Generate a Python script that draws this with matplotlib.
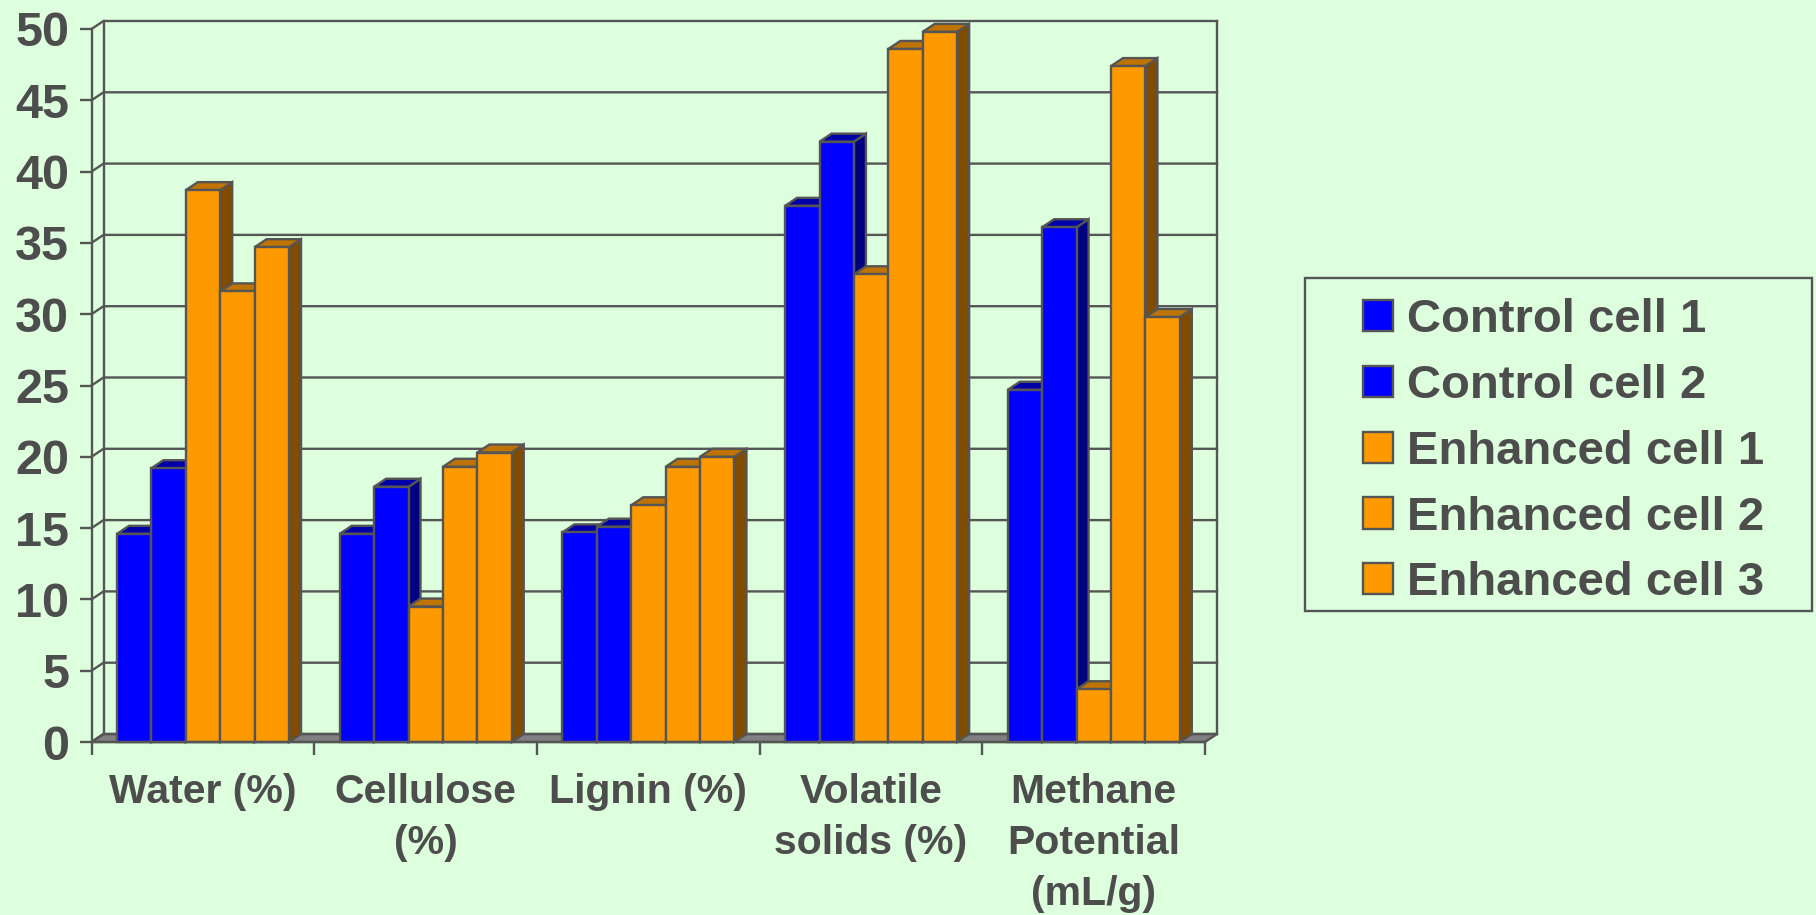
import matplotlib
matplotlib.use("Agg")
import matplotlib.pyplot as plt
from matplotlib.patches import Polygon, Rectangle

categories = ["Water (%)", "Cellulose\n(%)", "Lignin (%)", "Volatile\nsolids (%)", "Methane\nPotential\n(mL/g)"]
series_names = ["Control cell 1", "Control cell 2", "Enhanced cell 1", "Enhanced cell 2", "Enhanced cell 3"]
control_1 = [14.6, 14.6, 14.7, 37.6, 24.7]
control_2 = [19.2, 17.9, 15.1, 42.1, 36.1]
enhanced_1 = [38.7, 9.5, 16.6, 32.8, 3.7]
enhanced_2 = [31.6, 19.3, 19.3, 48.6, 47.4]
enhanced_3 = [34.7, 20.3, 20.0, 49.8, 29.8]
series_values = [control_1, control_2, enhanced_1, enhanced_2, enhanced_3]
y_ticks = list(range(0, 51, 5))

BG = "#DDFFDD"
INK = "#4D4D4D"
LINE = "#555555"
BLUE = ("#0000FF", "#000080", "#0000A8")
ORANGE = ("#FF9900", "#7F4C00", "#BF7300")
palette = [BLUE, BLUE, ORANGE, ORANGE, ORANGE]

W, H = 1816, 915
plt.rcParams["font.family"] = ["Liberation Sans", "DejaVu Sans"]
plt.rcParams["font.weight"] = "bold"

fig = plt.figure(figsize=(W / 100, H / 100), dpi=100, facecolor=BG)
left, right, bottom, top = 91.5, 1205.0, 742.0, 29.0
ax = fig.add_axes([left / W, 1 - bottom / H, (right - left) / W, (bottom - top) / H])
ax.set_xlim(0, 5)
ax.set_ylim(0, 50)
ax.set_facecolor("none")

# Depth of the pseudo-3D box, expressed in data units
dx = 12.0 / ((right - left) / 5)
dy = 8.0 / ((bottom - top) / 50)
LW = 1.7

# Floor, back wall and gridlines
ax.add_patch(Polygon([(0, 0), (dx, dy), (5 + dx, dy), (5, 0)], closed=True,
                     facecolor="#808080", edgecolor=LINE, lw=LW, clip_on=False, zorder=1))
for v in y_ticks:
    ax.plot([0, dx, 5 + dx], [v, v + dy, v + dy], color=LINE, lw=LW, clip_on=False, zorder=1.5,
            solid_joinstyle="miter")
ax.plot([dx, dx], [dy, 50 + dy], color=LINE, lw=LW, clip_on=False, zorder=1.5)
ax.plot([5 + dx, 5 + dx], [dy, 50 + dy], color=LINE, lw=LW, clip_on=False, zorder=1.5)

# Bars, left to right so each front face overlaps its neighbour's side face
bar_w = 0.1545
start = 0.1145
z = 2.0
handles = []
for g, name in enumerate(categories):
    for s, vals in enumerate(series_values):
        x0 = g + start + s * bar_w
        x1 = x0 + bar_w
        v = vals[g]
        front, side, cap = palette[s]
        ax.add_patch(Polygon([(x1, 0), (x1 + dx, dy), (x1 + dx, v + dy), (x1, v)], closed=True,
                             facecolor=side, edgecolor=LINE, lw=LW, clip_on=False, zorder=z))
        ax.add_patch(Polygon([(x0, v), (x0 + dx, v + dy), (x1 + dx, v + dy), (x1, v)], closed=True,
                             facecolor=cap, edgecolor=LINE, lw=LW, clip_on=False, zorder=z))
        bar = ax.bar(x0, v, width=bar_w, align="edge", color=front, edgecolor=LINE, lw=LW,
                     clip_on=False, zorder=z + 0.1)
        if g == 0:
            handles.append(bar[0])
        z += 0.2

ax.set_yticks(y_ticks)
ax.set_xticks(range(6))
ax.set_xticklabels([])
ax.set_xticks([i + 0.5 for i in range(5)], minor=True)
ax.set_xticklabels(categories, minor=True, fontsize=29.5, color=INK, fontweight="bold",
                   linespacing=1.43)
ax.tick_params(axis="x", which="major", length=9, width=LW, color=LINE)
ax.tick_params(axis="x", which="minor", length=0, pad=22.5)
ax.tick_params(axis="y", length=9, width=LW, color=LINE, labelsize=35, labelcolor=INK, pad=7)
for lab in ax.get_yticklabels():
    lab.set_fontweight("bold")
    lab.set_verticalalignment("center_baseline")
for sp in ("top", "right"):
    ax.spines[sp].set_visible(False)
for sp in ("left", "bottom"):
    ax.spines[sp].set_color(LINE)
    ax.spines[sp].set_linewidth(LW)
    ax.spines[sp].set_zorder(50)

# Legend box with its own frame
fig.add_artist(Rectangle((1305 / W, 1 - 611 / H), (1812 - 1305) / W, (611 - 278) / H,
                         transform=fig.transFigure, facecolor="none", edgecolor=LINE, lw=LW))
fs = 34
em = fs * 100 / 72
fig.legend(handles, series_names, loc="upper left", bbox_to_anchor=(1363 / W, 1 - 298 / H),
           frameon=False, fontsize=fs, labelcolor=INK, borderpad=0, borderaxespad=0,
           handlelength=30 / em, handleheight=30 / em, handletextpad=14 / em,
           labelspacing=0.463)

fig.savefig("out.png", dpi=100, facecolor=BG)
